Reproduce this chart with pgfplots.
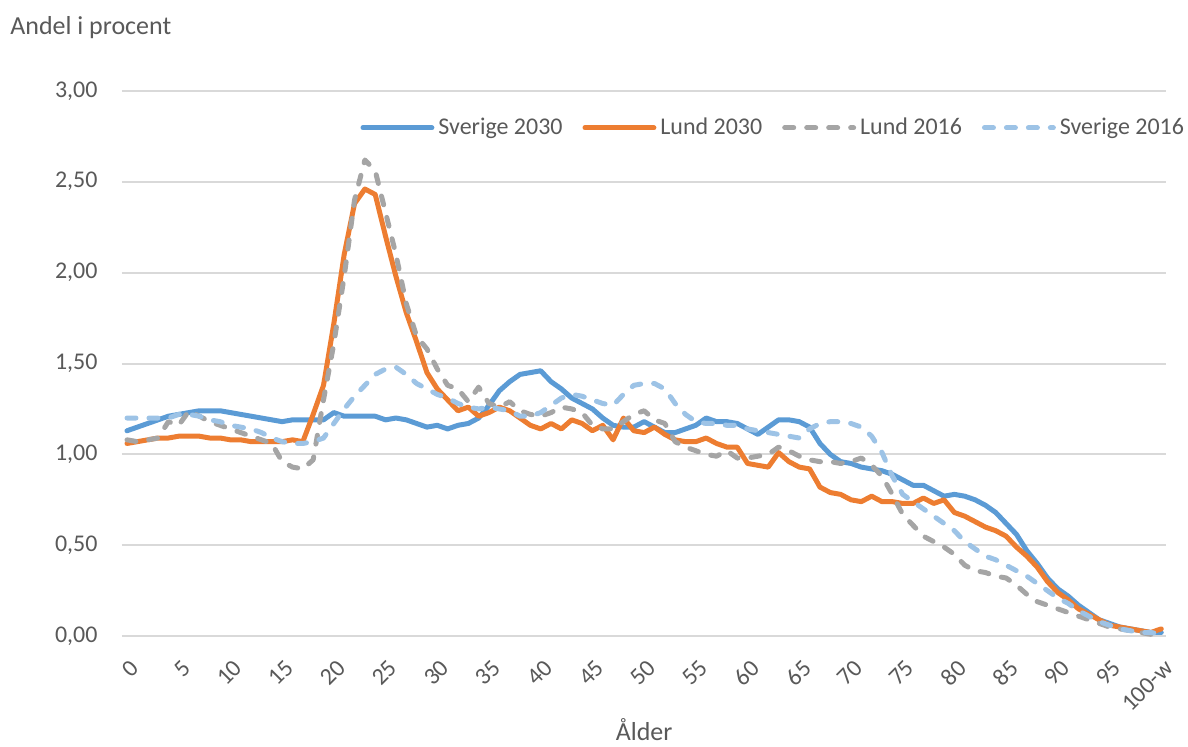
\documentclass[border=0pt]{standalone}
\usepackage{pgfplots}
\pgfplotsset{compat=1.18}
\usepackage{pgfplotstable}
\usepackage{fontspec}
\setmainfont{Carlito}
\definecolor{svA}{HTML}{5B9BD5}
\definecolor{luA}{HTML}{ED7D31}
\definecolor{luB}{HTML}{A5A5A5}
\definecolor{svB}{HTML}{9DC3E6}
\definecolor{gridc}{HTML}{D9D9D9}
\definecolor{txt}{HTML}{595959}
\pgfplotstableread{
age sv30 lu30 lu16 sv16
0 1.13 1.06 1.08 1.20
1 1.15 1.07 1.07 1.20
2 1.17 1.08 1.08 1.20
3 1.19 1.09 1.09 1.20
4 1.21 1.09 1.18 1.20
5 1.22 1.10 1.16 1.22
6 1.23 1.10 1.24 1.22
7 1.24 1.10 1.21 1.21
8 1.24 1.09 1.18 1.19
9 1.24 1.09 1.16 1.18
10 1.23 1.08 1.14 1.16
11 1.22 1.08 1.12 1.15
12 1.21 1.07 1.10 1.14
13 1.20 1.07 1.08 1.12
14 1.19 1.07 1.06 1.09
15 1.18 1.07 0.96 1.07
16 1.19 1.08 0.93 1.06
17 1.19 1.07 0.92 1.06
18 1.19 1.22 0.97 1.07
19 1.19 1.38 1.30 1.09
20 1.23 1.72 1.61 1.17
21 1.21 2.10 1.98 1.25
22 1.21 2.38 2.40 1.32
23 1.21 2.46 2.62 1.38
24 1.21 2.43 2.56 1.44
25 1.19 2.20 2.33 1.47
26 1.20 1.98 2.10 1.48
27 1.19 1.78 1.83 1.44
28 1.17 1.62 1.65 1.39
29 1.15 1.45 1.58 1.36
30 1.16 1.36 1.47 1.33
31 1.14 1.30 1.38 1.31
32 1.16 1.24 1.36 1.28
33 1.17 1.26 1.29 1.26
34 1.20 1.21 1.37 1.25
35 1.27 1.23 1.28 1.26
36 1.35 1.26 1.26 1.25
37 1.40 1.24 1.29 1.24
38 1.44 1.20 1.24 1.21
39 1.45 1.16 1.22 1.21
40 1.46 1.14 1.21 1.23
41 1.40 1.17 1.23 1.27
42 1.36 1.14 1.26 1.31
43 1.31 1.19 1.25 1.33
44 1.28 1.17 1.23 1.32
45 1.25 1.13 1.16 1.30
46 1.20 1.16 1.14 1.28
47 1.16 1.08 1.14 1.27
48 1.15 1.20 1.18 1.33
49 1.15 1.13 1.22 1.38
50 1.18 1.12 1.24 1.39
51 1.15 1.15 1.19 1.39
52 1.12 1.11 1.17 1.36
53 1.12 1.08 1.07 1.28
54 1.14 1.07 1.04 1.22
55 1.16 1.07 1.02 1.18
56 1.20 1.09 1.00 1.17
57 1.18 1.06 0.99 1.17
58 1.18 1.04 1.02 1.16
59 1.17 1.04 0.98 1.16
60 1.14 0.95 0.98 1.14
61 1.11 0.94 0.99 1.13
62 1.15 0.93 1.00 1.12
63 1.19 1.01 1.04 1.11
64 1.19 0.96 1.02 1.10
65 1.18 0.93 0.99 1.09
66 1.15 0.92 0.97 1.14
67 1.06 0.82 0.96 1.17
68 1.00 0.79 0.96 1.18
69 0.96 0.78 0.95 1.18
70 0.95 0.75 0.96 1.17
71 0.93 0.74 0.98 1.15
72 0.92 0.77 0.94 1.10
73 0.91 0.74 0.88 1.01
74 0.89 0.74 0.78 0.88
75 0.86 0.73 0.67 0.78
76 0.83 0.73 0.61 0.74
77 0.83 0.76 0.55 0.70
78 0.80 0.73 0.52 0.66
79 0.77 0.75 0.49 0.62
80 0.78 0.68 0.45 0.58
81 0.77 0.66 0.39 0.52
82 0.75 0.63 0.36 0.48
83 0.72 0.60 0.35 0.44
84 0.68 0.58 0.33 0.42
85 0.62 0.55 0.32 0.39
86 0.56 0.49 0.28 0.36
87 0.47 0.44 0.23 0.33
88 0.40 0.38 0.19 0.29
89 0.32 0.30 0.17 0.25
90 0.26 0.24 0.15 0.21
91 0.22 0.20 0.13 0.18
92 0.17 0.15 0.11 0.14
93 0.13 0.12 0.09 0.11
94 0.09 0.09 0.07 0.08
95 0.07 0.06 0.05 0.06
96 0.05 0.05 0.04 0.04
97 0.04 0.04 0.03 0.03
98 0.03 0.03 0.02 0.02
99 0.02 0.02 0.01 0.02
100 0.02 0.04 0.01 0.01
}\datatable
\begin{document}
\begin{tikzpicture}
\begin{axis}[
  scale only axis, width=523pt, height=273pt,
  xmin=-0.5, xmax=100.5, ymin=0, ymax=3,
  axis line style={draw=none}, major tick length=0pt,
  ymajorgrids, grid style={color=gridc, line width=1pt},
  ytick={0,0.5,1,1.5,2,2.5,3},
  xtick={0,5,...,100},
  xticklabels={0,5,10,15,20,25,30,35,40,45,50,55,60,65,70,75,80,85,90,95,100-w},
  xticklabel style={xshift=1pt, yshift=-11pt, rotate=45, anchor=north east, inner sep=0pt, font=\fontsize{12}{14}\selectfont, text=txt},
  yticklabel style={anchor=east, inner sep=0pt, xshift=-12pt, font=\fontsize{12}{14}\selectfont, text=txt},
  xlabel={Ålder},
  xlabel style={at={(axis description cs:0.5,0)}, anchor=center, yshift=-47pt, inner sep=0pt, font=\fontsize{13}{15}\selectfont, text=txt},
  legend columns=4,
  legend style={draw=none, fill=none, at={(rel axis cs:1,1)}, anchor=east, xshift=11pt, yshift=-18.5pt, font=\fontsize{12}{14}\selectfont, text=txt, inner sep=0pt,
    /tikz/column 2/.style={column sep=8pt}, /tikz/column 4/.style={column sep=8pt}, /tikz/column 6/.style={column sep=8pt}},
  legend image code/.code={\draw[#1] (0pt,0pt) -- (34.5pt,0pt);},
  every axis plot/.append style={line width=2.5pt, line join=round},
  clip=false,
  /pgf/number format/.cd, fixed, fixed zerofill, precision=2, use comma, assume math mode=true
]
\addplot[svA, line cap=round] table[x=age, y=sv30] {\datatable};
\addlegendentry{Sverige 2030}
\addplot[luA, line cap=round] table[x=age, y=lu30] {\datatable};
\addlegendentry{Lund 2030}
\addplot[luB, line cap=round, dash pattern=on 4.5pt off 6.5pt] table[x=age, y=lu16] {\datatable};
\addlegendentry{Lund 2016}
\addplot[svB, line cap=round, dash pattern=on 4.5pt off 6.5pt] table[x=age, y=sv16] {\datatable};
\addlegendentry{Sverige 2016}
\node[anchor=west, inner sep=0pt, font=\fontsize{13}{15}\selectfont, text=txt] at ([xshift=-56pt, yshift=31.5pt]rel axis cs:0,1) {Andel i procent};
\coordinate (bl) at (rel axis cs:0,0);
\coordinate (tr) at (rel axis cs:1,1);
\end{axis}
\path ([shift={(-61pt,-55.5pt)}]bl) rectangle ([shift={(10pt,45.5pt)}]tr);
\end{tikzpicture}
\end{document}
